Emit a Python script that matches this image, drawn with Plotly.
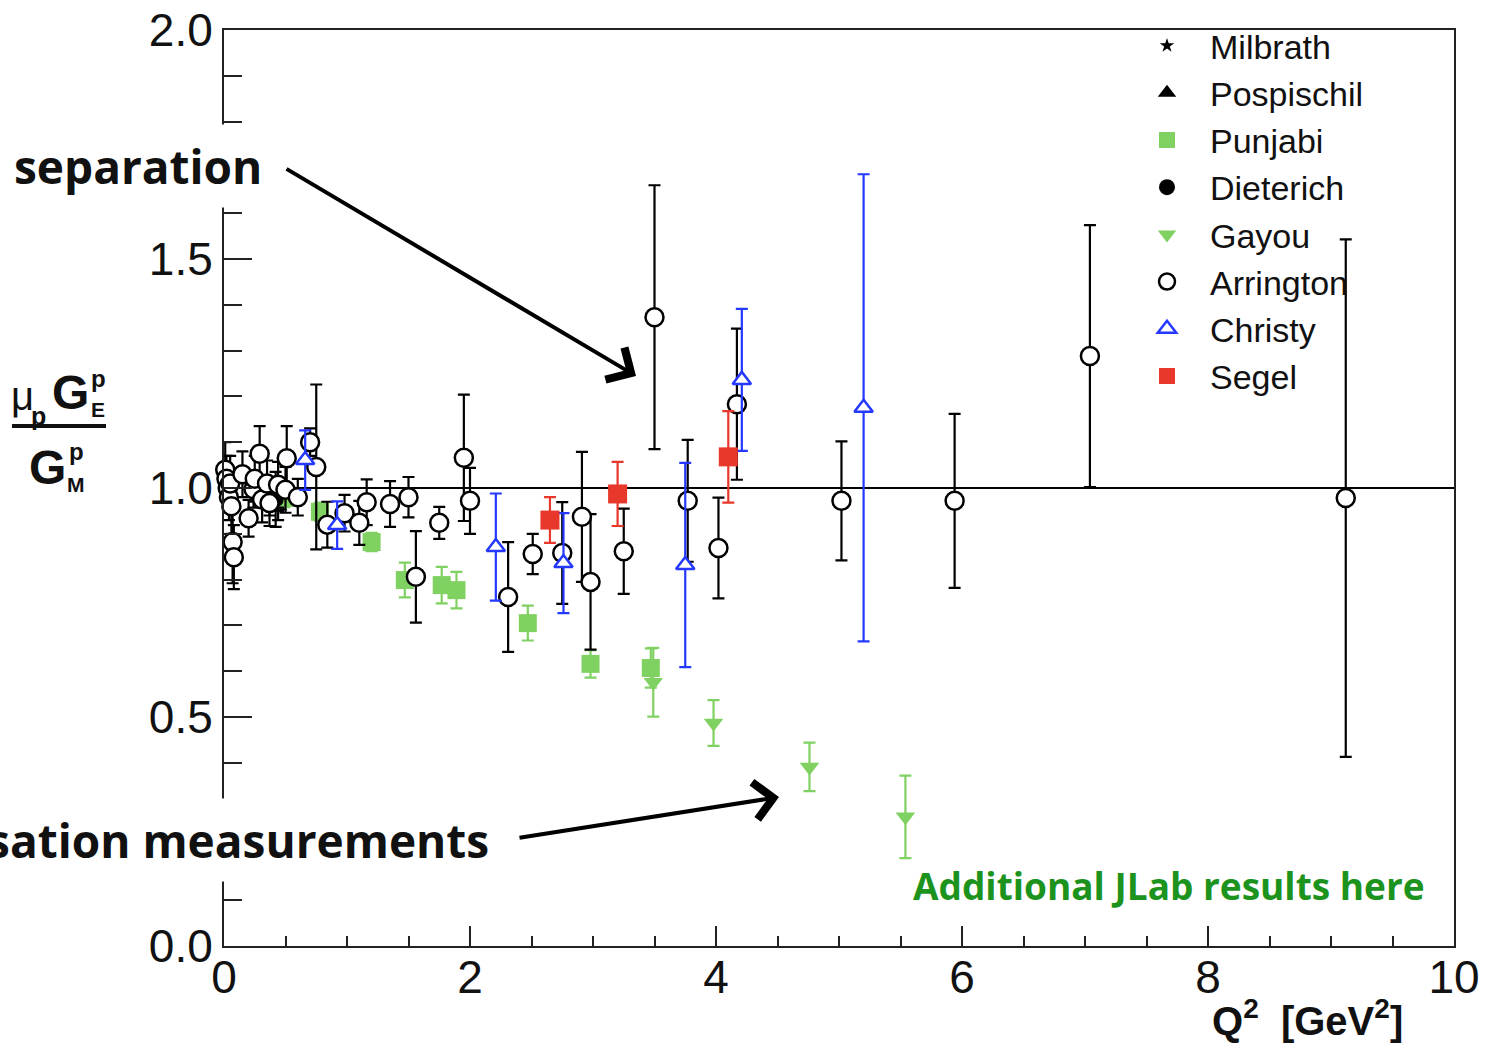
import plotly.graph_objects as go

# ---------------- data: mu_p G_E / G_M ratio vs Q^2 ----------------
milbrath_q2 = [0.37, 0.44]
milbrath_r = [0.99, 0.98]
milbrath_e = [0.03, 0.03]

pospischil_q2 = [0.37, 0.40, 0.44]
pospischil_r = [0.97, 0.98, 0.96]
pospischil_e = [0.03, 0.03, 0.03]

punjabi_q2 = [0.49, 0.78, 1.20, 1.47, 1.77, 1.89, 2.47, 2.98, 3.47]
punjabi_r = [0.978, 0.948, 0.882, 0.799, 0.788, 0.777, 0.705, 0.616, 0.607]
punjabi_e = [0.02, 0.02, 0.02, 0.038, 0.04, 0.04, 0.038, 0.03, 0.043]

dieterich_q2 = [0.42]
dieterich_r = [0.975]
dieterich_e = [0.06]

gayou_q2 = [3.49, 3.98, 4.76, 5.54]
gayou_r = [0.576, 0.487, 0.391, 0.282]
gayou_e = [0.075, 0.05, 0.053, 0.09]

arrington_q2 = [0.01, 0.02, 0.03, 0.04, 0.05, 0.06, 0.07, 0.08,
                0.15, 0.20, 0.24, 0.25, 0.29, 0.31, 0.35, 0.37, 0.44,
                0.50, 0.51, 0.60, 0.70, 0.75, 0.84, 0.98, 1.10, 1.16,
                1.35, 1.50, 1.56, 1.75, 1.95, 2.00, 2.31, 2.51, 2.75,
                2.91, 2.98, 3.25, 3.50, 3.77, 4.02, 4.17, 5.02, 5.94,
                7.04, 9.12]
arrington_r = [1.04, 1.02, 1.00, 0.98, 1.01, 0.96, 0.882, 0.849,
               1.03, 0.934, 0.997, 1.02, 1.075, 0.975, 1.01, 0.967, 1.007,
               0.996, 1.065, 0.98, 1.10, 1.046, 0.92, 0.945, 0.924, 0.969,
               0.965, 0.98, 0.806, 0.924, 1.066, 0.972, 0.762, 0.856, 0.858,
               0.937, 0.795, 0.862, 1.373, 0.972, 0.869, 1.183, 0.972, 0.972,
               1.288, 0.978]
arrington_e = [0.06, 0.05, 0.05, 0.05, 0.06, 0.06, 0.09, 0.07,
               0.05, 0.04, 0.04, 0.05, 0.06, 0.05, 0.05, 0.05, 0.05,
               0.05, 0.07, 0.04, 0.03, 0.18, 0.05, 0.04, 0.048, 0.05,
               0.05, 0.044, 0.10, 0.035, 0.138, 0.072, 0.12, 0.044, 0.111,
               0.142, 0.148, 0.093, 0.288, 0.133, 0.11, 0.165, 0.13, 0.19,
               0.286, 0.565]

christy_q2 = [0.66, 0.92, 2.21, 2.76, 3.75, 4.21, 5.20]
christy_r = [1.061, 0.919, 0.871, 0.836, 0.832, 1.236, 1.175]
christy_e = [0.065, 0.052, 0.117, 0.109, 0.223, 0.155, 0.51]

segel_q2 = [2.65, 3.20, 4.10]
segel_r = [0.93, 0.987, 1.068]
segel_e = [0.05, 0.07, 0.10]

x_ticks = [0, 2, 4, 6, 8, 10]
y_ticks = [0.0, 0.5, 1.0, 1.5, 2.0]

GREEN = "#7fd161"
RED = "#e8372b"
BLUE = "#2438ff"
BLACK = "#000000"

# plot-area geometry in pixels (figure is 1495 x 1044)
FIG_W, FIG_H = 1495, 1044
L, R, T, B = 224, 1454, 30, 946

SANS = "Liberation Sans"
ROUND = "Open Sans"


def px(xp):
    return (xp - L) / (R - L)


def py(yp):
    return (B - yp) / (B - T)


def series(name, xs, ys, es, symbol, size, color, fill, lw=2.5):
    return go.Scatter(
        x=xs, y=ys, name=name, mode="markers", cliponaxis=False,
        marker=dict(symbol=symbol, size=size, color=fill,
                    line=dict(color=color, width=lw)),
        error_y=dict(type="data", array=es, visible=True,
                     color=color, thickness=2.2, width=6),
    )


fig = go.Figure()
fig.add_trace(series("Milbrath", milbrath_q2, milbrath_r, milbrath_e,
                     "star", 11, BLACK, BLACK, 0))
fig.add_trace(series("Pospischil", pospischil_q2, pospischil_r, pospischil_e,
                     "triangle-up", 16, BLACK, BLACK, 0))
fig.add_trace(series("Punjabi", punjabi_q2, punjabi_r, punjabi_e,
                     "square", 18, GREEN, GREEN, 0))
fig.add_trace(series("Dieterich", dieterich_q2, dieterich_r, dieterich_e,
                     "circle", 16, BLACK, BLACK, 0))
fig.add_trace(series("Gayou", gayou_q2, gayou_r, gayou_e,
                     "triangle-down", 17, GREEN, GREEN, 0))
fig.add_trace(series("Arrington", arrington_q2, arrington_r, arrington_e,
                     "circle", 18, BLACK, "white"))
fig.add_trace(series("Christy", christy_q2, christy_r, christy_e,
                     "triangle-up", 16, BLUE, "white"))
fig.add_trace(series("Segel", segel_q2, segel_r, segel_e,
                     "square", 19, RED, RED, 0))

# reference line at ratio = 1
fig.add_shape(type="line", x0=0, x1=10, y0=1, y1=1, xref="x", yref="y",
              line=dict(color=BLACK, width=2), layer="below")

TICKFONT = dict(family=SANS, size=46, color="#111")

fig.update_xaxes(
    range=[0, 10], tickvals=x_ticks, ticktext=[str(v) for v in x_ticks],
    ticks="inside", ticklen=20, tickwidth=2, tickcolor="#222",
    minor=dict(dtick=0.5, ticks="inside", ticklen=10, tickwidth=2, tickcolor="#222"),
    showline=True, linecolor="#222", linewidth=2, mirror=True,
    showgrid=False, zeroline=False, tickfont=TICKFONT,
    ticklabelstandoff=-10, automargin=False,
)
fig.update_yaxes(
    range=[0, 2], tickvals=y_ticks, ticktext=[f"{v:.1f}" for v in y_ticks],
    ticks="inside", ticklen=28, tickwidth=2, tickcolor="#222",
    minor=dict(dtick=0.1, ticks="inside", ticklen=18, tickwidth=2, tickcolor="#222"),
    showline=True, linecolor="#222", linewidth=2, mirror=True,
    showgrid=False, zeroline=False, tickfont=TICKFONT, automargin=False,
)

ann = []


def label(text, xp, yp, size, bold=True, color="#111", family=SANS, xanchor="center"):
    t = f"<b>{text}</b>" if bold else text
    ann.append(dict(text=t, x=px(xp), y=py(yp), xref="paper", yref="paper",
                    xanchor=xanchor, yanchor="middle", showarrow=False,
                    font=dict(family=family, size=size, color=color)))


# y-axis title: mu_p G_E^p / G_M^p
label("\u03bc", 22, 396, 40, bold=False)
label("p", 39, 416, 25)
label("G", 70, 393, 48)
label("p", 98, 378, 24)
label("E", 98, 410, 21)
label("G", 47, 467, 48)
label("p", 76, 451, 24)
label("M", 76, 484, 21)
fig.add_shape(type="line", xref="paper", yref="paper",
              x0=px(12), x1=px(106), y0=py(426), y1=py(426),
              line=dict(color="#111", width=4))

# x-axis title
label("Q<sup>2</sup>  [GeV<sup>2</sup>]", 1405, 1018, 40, xanchor="right")

# call-out labels with white boxes over the frame
ann.append(dict(text="<b>separation</b>", x=px(3), y=py(166), xref="paper", yref="paper",
                xanchor="left", yanchor="middle", showarrow=False, bgcolor="white",
                borderpad=10, font=dict(family=ROUND, size=46, color="#111")))
ann.append(dict(text="<b>Polarisation measurements</b>", x=px(500), y=py(840),
                xref="paper", yref="paper", xanchor="right", yanchor="middle",
                showarrow=False, bgcolor="white", borderpad=10,
                font=dict(family=ROUND, size=46, color="#111")))
ann.append(dict(text="<b>Additional JLab results here</b>", x=px(1427), y=py(885),
                xref="paper", yref="paper", xanchor="right", yanchor="middle",
                showarrow=False,
                font=dict(family=ROUND, size=37, color="#1c931c")))

# arrows
for (hx, hy, tx, ty) in [(636, 376, 285, 168), (779, 797, 518, 838)]:
    ann.append(dict(text="", x=px(hx), y=py(hy), xref="paper", yref="paper",
                    ax=tx - hx, ay=ty - hy, axref="pixel", ayref="pixel",
                    showarrow=True, arrowhead=4, arrowsize=1.8, arrowwidth=4,
                    arrowcolor="#000", standoff=0))

fig.update_layout(
    width=FIG_W, height=FIG_H,
    margin=dict(l=L, r=FIG_W - R, t=T, b=FIG_H - B, autoexpand=False),
    paper_bgcolor="white", plot_bgcolor="white",
    annotations=ann,
    legend=dict(x=px(1124), y=py(17), xanchor="left", yanchor="top",
                bgcolor="rgba(0,0,0,0)", borderwidth=0, itemwidth=76,
                font=dict(family=SANS, size=34, color="#111"),
                itemsizing="trace", traceorder="normal"),
    showlegend=True,
)

fig.write_html("out.html")
